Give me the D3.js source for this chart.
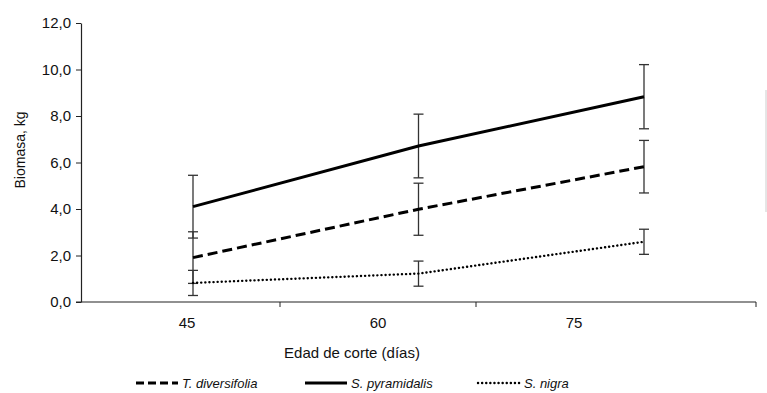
<!DOCTYPE html>
<html>
<head>
<meta charset="utf-8">
<script src="https://cdn.jsdelivr.net/npm/d3@7"></script>
<style>
  body { margin: 0; background: #fff; }
  text { font-family: "Liberation Sans", Arial, sans-serif; fill: #111; }
</style>
</head>
<body>
<div id="chart"></div>
<script>
// data
var ages = [45, 60, 75];
var ageLabels = ["45", "60", "75"];
var tithonia = [1.91, 3.99, 5.82];
var tithoniaErr = [1.11, 1.12, 1.13];
var pennisetum = [4.10, 6.71, 8.83];
var pennisetumErr = [1.35, 1.37, 1.38];
var sambucus = [0.82, 1.22, 2.59];
var sambucusErr = [0.54, 0.54, 0.54];
var yTicks = [0, 2, 4, 6, 8, 10, 12];

var series = [
    { name: "T. diversifolia", values: tithonia, err: tithoniaErr, dash: "10,5", width: 3, cap: "butt" },
    { name: "S. pyramidalis", values: pennisetum, err: pennisetumErr, dash: null, width: 3, cap: "butt" },
    { name: "S. nigra", values: sambucus, err: sambucusErr, dash: "0.1,4", width: 2.4, cap: "round" }
];

var width = 767, height = 393;
var plot = { left: 81, right: 756, top: 23, bottom: 302 };

var svg = d3.select("#chart").append("svg")
    .attr("width", width)
    .attr("height", height);

// scales
var y = d3.scaleLinear().domain([0, 12]).range([plot.bottom, plot.top]);
var x = d3.scaleLinear().domain([45, 75]).range([193, 644]);
var xBand = d3.scaleBand().domain(ageLabels).range([84, 672]).paddingInner(0);

var fmt = function (d) { return d3.format(".1f")(d).replace(".", ","); };

// y axis
var yAxis = svg.append("g")
    .attr("transform", "translate(" + plot.left + ",0)")
    .call(d3.axisLeft(y).tickValues(yTicks).tickFormat(fmt).tickSize(5).tickSizeOuter(0));
yAxis.select(".domain").attr("stroke", "#222").attr("stroke-width", 1.2);
yAxis.selectAll(".tick line").attr("stroke", "#222");
yAxis.selectAll(".tick text").attr("font-size", 15).attr("x", -10).attr("fill", "#111")
    .style("font-family", "'Liberation Sans', Arial, sans-serif");

svg.append("text")
    .attr("transform", "translate(25,150) rotate(-90)")
    .attr("text-anchor", "middle")
    .attr("font-size", 14)
    .text("Biomasa, kg");

// x axis
var xg = svg.append("g").attr("transform", "translate(0," + plot.bottom + ")");
xg.append("line")
    .attr("x1", plot.left - 5).attr("x2", plot.right)
    .attr("stroke", "#222").attr("stroke-width", 1.2);
var boundaries = [xBand("60"), xBand("75"), plot.right];
xg.selectAll(".xtick").data(boundaries).enter().append("line")
    .attr("class", "xtick")
    .attr("x1", function (d) { return d; })
    .attr("x2", function (d) { return d; })
    .attr("y1", 0).attr("y2", 5)
    .attr("stroke", "#222");
xg.selectAll(".xlab").data(ageLabels).enter().append("text")
    .attr("class", "xlab")
    .attr("x", function (d) { return xBand(d) + xBand.bandwidth() / 2 + (d == "45" ? 5 : 0); })
    .attr("y", 26)
    .attr("text-anchor", "middle")
    .attr("font-size", 15)
    .text(function (d) { return d; });

svg.append("text")
    .attr("x", 352).attr("y", 358)
    .attr("text-anchor", "middle")
    .attr("font-size", 15)
    .text("Edad de corte (días)");

// faint frame remnant on the right
svg.append("line")
    .attr("x1", 766).attr("x2", 766).attr("y1", 90).attr("y2", 212)
    .attr("stroke", "#ccc").attr("stroke-width", 1);

// error bars
var eb = svg.append("g");
series.forEach(function (s) {
    ages.forEach(function (a, i) {
        var cx = x(a), hi = y(s.values[i] + s.err[i]), lo = y(s.values[i] - s.err[i]);
        eb.append("line").attr("x1", cx).attr("x2", cx).attr("y1", hi).attr("y2", lo)
            .attr("stroke", "#333").attr("stroke-width", 1.3);
        [hi, lo].forEach(function (yy) {
            eb.append("line").attr("x1", cx - 5).attr("x2", cx + 5).attr("y1", yy).attr("y2", yy)
                .attr("stroke", "#333").attr("stroke-width", 1.3);
        });
    });
});

// lines
var line = d3.line()
    .x(function (d, i) { return x(ages[i]); })
    .y(function (d) { return y(d); });

svg.selectAll(".series").data(series).enter().append("path")
    .attr("class", "series")
    .attr("d", function (d) { return line(d.values); })
    .attr("fill", "none")
    .attr("stroke", "#000")
    .attr("stroke-width", function (d) { return d.width; })
    .attr("stroke-linecap", function (d) { return d.cap; })
    .attr("stroke-dasharray", function (d) { return d.dash; });

// legend
var legendPos = [136, 305, 478];
var legend = svg.selectAll(".leg").data(series).enter().append("g")
    .attr("class", "leg")
    .attr("transform", function (d, i) { return "translate(" + legendPos[i] + ",383)"; });
legend.append("line")
    .attr("x1", 0).attr("x2", 42).attr("y1", 0).attr("y2", 0)
    .attr("stroke", "#000")
    .attr("stroke-width", function (d) { return d.width; })
    .attr("stroke-linecap", function (d) { return d.cap; })
    .attr("stroke-dasharray", function (d) { return d.dash ? (d.cap == "round" ? "0.1,4" : "8,4") : null; });
legend.append("text")
    .attr("x", 46).attr("y", 5)
    .attr("font-size", 13)
    .attr("font-style", "italic")
    .style("font-family", "'Liberation Sans Narrow', 'Arial Narrow', 'Liberation Sans', sans-serif")
    .text(function (d) { return d.name; });
</script>
</body>
</html>
